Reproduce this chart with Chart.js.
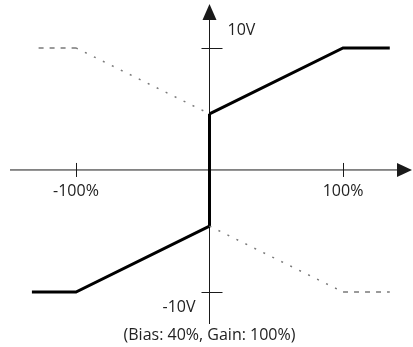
<!DOCTYPE html>
<html>
<head>
<meta charset="utf-8">
<script src="https://cdn.jsdelivr.net/npm/chart.js@4"></script>
<style>
    html, body { margin: 0; padding: 0; background: #fff; }
    #chart { display: block; }
</style>
</head>
<body>
<canvas id="chart" width="413" height="347"></canvas>
<script>
// --- Data (input %, output V) ---
const solidUpperX = [0, 100, 135];
const solidUpperY = [4.6, 10, 10];
const solidLowerX = [-133, -100, 0];
const solidLowerY = [-10, -10, -4.6];
const jumpX = [0, 0];
const jumpY = [4.6, -4.6];

const dashUpperX = [-128, -100];
const dashUpperY = [10, 10];
const dotUpperX = [-100, 0];
const dotUpperY = [10, 4.6];
const dotLowerX = [0, 100];
const dotLowerY = [-4.6, -10];
const dashLowerX = [100, 135];
const dashLowerY = [-10, -10];

const xTicks = [-100, 100];
const xTickLabels = ['-100%', '100%'];
const yTicks = [10, -10];
const yTickLabels = ['10V', '-10V'];
const caption = '(Bias: 40%, Gain: 100%)';

// world window, chosen so the chart area fills the canvas
const world = { xMin: -156.9, xMax: 152.4, yMin: -14.51, yMax: 13.93 };
const FONT = '16px "Open Sans", "Noto Sans", sans-serif';
const INK = '#1a1a1a';

function pts(xs, ys) {
    return xs.map((x, i) => ({ x: x, y: ys[i] }));
}

function line(xs, ys, color, width, dash) {
    return {
        data: pts(xs, ys),
        showLine: true,
        borderColor: color,
        borderWidth: width,
        borderDash: dash || [],
        pointRadius: 0,
        fill: false,
        tension: 0
    };
}

// axes, arrows, ticks and labels drawn through the scales
const axesPlugin = {
    id: 'axes',
    beforeDatasetsDraw(chart) {
        const c = chart.ctx;
        const xs = chart.scales.x, ys = chart.scales.y;
        const x0 = xs.getPixelForValue(0), y0 = ys.getPixelForValue(0);
        c.save();
        c.strokeStyle = INK;
        c.fillStyle = INK;
        c.lineWidth = 1;

        // x axis + arrow
        c.beginPath();
        c.moveTo(10, y0);
        c.lineTo(398, y0);
        c.stroke();
        c.beginPath();
        c.moveTo(397, y0 - 7);
        c.lineTo(412, y0);
        c.lineTo(397, y0 + 7);
        c.closePath();
        c.fill();

        // y axis + arrow
        c.beginPath();
        c.moveTo(x0, 324);
        c.lineTo(x0, 19);
        c.stroke();
        c.beginPath();
        c.moveTo(x0 - 7, 20);
        c.lineTo(x0, 4);
        c.lineTo(x0 + 7, 20);
        c.closePath();
        c.fill();

        // ticks
        c.beginPath();
        xTicks.forEach(v => {
            const px = Math.round(xs.getPixelForValue(v)) + 0.5;
            c.moveTo(px, y0 - 7);
            c.lineTo(px, y0 + 7);
        });
        yTicks.forEach(v => {
            const py = Math.round(ys.getPixelForValue(v)) + 0.5;
            c.moveTo(x0 - 8, py);
            c.lineTo(x0 + 13, py);
        });
        c.stroke();

        // labels
        c.font = FONT;
        c.fillStyle = '#222';
        c.textBaseline = 'middle';
        c.textAlign = 'center';
        xTicks.forEach((v, i) => {
            c.fillText(xTickLabels[i], xs.getPixelForValue(v), y0 + 21);
        });
        c.textAlign = 'left';
        c.fillText(yTickLabels[0], x0 + 18, ys.getPixelForValue(yTicks[0]) - 18);
        c.textAlign = 'right';
        c.fillText(yTickLabels[1], x0 - 14, ys.getPixelForValue(yTicks[1]) + 15);
        c.textAlign = 'center';
        c.fillText(caption, x0, 335);
        c.restore();
    }
};

const chart = new Chart(document.getElementById('chart'), {
    type: 'scatter',
    data: {
        datasets: [
            line(dashUpperX, dashUpperY, '#7a7a7a', 1.5, [5, 6]),
            line(dotUpperX, dotUpperY, '#7a7a7a', 1.5, [2, 8]),
            line(dotLowerX, dotLowerY, '#7a7a7a', 1.5, [2, 8]),
            line(dashLowerX, dashLowerY, '#7a7a7a', 1.5, [5, 6]),
            line(jumpX, jumpY, '#000', 3),
            line(solidUpperX, solidUpperY, '#000', 3),
            line(solidLowerX, solidLowerY, '#000', 3)
        ]
    },
    options: {
        responsive: false,
        animation: false,
        layout: { padding: 0 },
        scales: {
            x: { type: 'linear', display: false, min: world.xMin, max: world.xMax },
            y: { type: 'linear', display: false, min: world.yMin, max: world.yMax }
        },
        plugins: { legend: { display: false }, tooltip: { enabled: false } }
    },
    plugins: [axesPlugin]
});
</script>
</body>
</html>
